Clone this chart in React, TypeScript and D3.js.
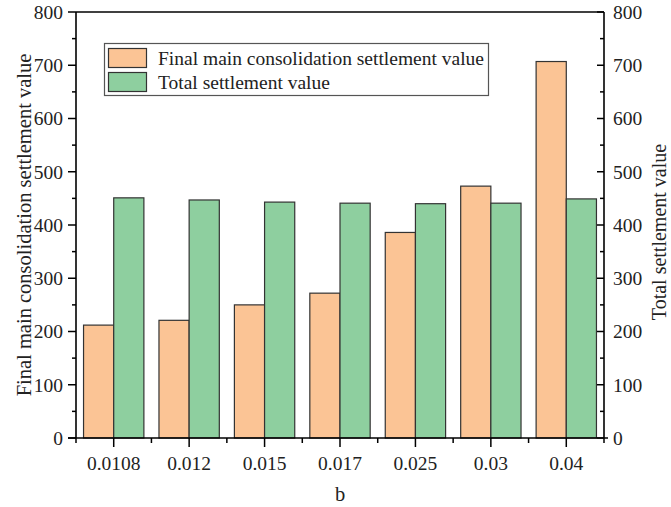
import { useEffect, useRef } from "react";
import * as d3 from "d3";

const categories = ["0.0108", "0.012", "0.015", "0.017", "0.025", "0.03", "0.04"];
const finalMain = [212, 221, 250, 272, 386, 473, 707];
const totalSettle = [451, 447, 443, 441, 440, 441, 449];
const yTicks = [0, 100, 200, 300, 400, 500, 600, 700, 800];
const seriesNames = ["Final main consolidation settlement value", "Total settlement value"];
const seriesColors = ["#FBC495", "#8ECF9F"];

const W = 671,
  H = 507;
const FONT = "Liberation Serif, serif";

const App = () => {
  const ref = useRef<SVGSVGElement>(null);

  useEffect(() => {
    const svg = d3.select(ref.current);
    svg.selectAll("*").remove();

    const left = 76,
      right = 604,
      top = 12,
      bottom = 438;

    const x = d3.scaleBand().domain(categories).range([left, right]).padding(0);
    const x1 = d3
      .scaleBand()
      .domain(["a", "b"])
      .range([x.bandwidth() * 0.1, x.bandwidth() * 0.9]);
    const y = d3.scaleLinear().domain([0, 800]).range([bottom, top]);

    const g = svg.append("g");

    const label = (sel: any, size = 19.5) =>
      sel.style("font-family", FONT).attr("font-size", size).attr("fill", "#222");

    // bars
    const groups = g
      .selectAll("g.cat")
      .data(categories)
      .enter()
      .append("g")
      .attr("class", "cat")
      .attr("transform", (d) => `translate(${x(d)},0)`);

    groups
      .append("rect")
      .attr("x", x1("a") as number)
      .attr("width", x1.bandwidth())
      .attr("y", (_, i) => y(finalMain[i]))
      .attr("height", (_, i) => bottom - y(finalMain[i]))
      .attr("fill", seriesColors[0])
      .attr("stroke", "#333")
      .attr("stroke-width", 1.2);

    groups
      .append("rect")
      .attr("x", x1("b") as number)
      .attr("width", x1.bandwidth())
      .attr("y", (_, i) => y(totalSettle[i]))
      .attr("height", (_, i) => bottom - y(totalSettle[i]))
      .attr("fill", seriesColors[1])
      .attr("stroke", "#333")
      .attr("stroke-width", 1.2);

    const minorY = d3.range(50, 800, 100);

    // left axis
    const la = g.append("g");
    la.append("line")
      .attr("x1", left).attr("x2", left)
      .attr("y1", top).attr("y2", bottom)
      .attr("stroke", "#000").attr("stroke-width", 1.6);
    yTicks.forEach((t) => {
      la.append("line")
        .attr("x1", left - 8).attr("x2", left)
        .attr("y1", y(t)).attr("y2", y(t))
        .attr("stroke", "#000").attr("stroke-width", 1.5);
      label(la.append("text"))
        .attr("x", left - 13)
        .attr("y", y(t))
        .attr("dy", "0.35em")
        .attr("text-anchor", "end")
        .text(t);
    });
    minorY.forEach((t) => {
      la.append("line")
        .attr("x1", left - 4).attr("x2", left)
        .attr("y1", y(t)).attr("y2", y(t))
        .attr("stroke", "#000").attr("stroke-width", 1.5);
    });

    // right axis
    const ra = g.append("g");
    ra.append("line")
      .attr("x1", right).attr("x2", right)
      .attr("y1", top).attr("y2", bottom)
      .attr("stroke", "#000").attr("stroke-width", 1.6);
    yTicks.forEach((t) => {
      ra.append("line")
        .attr("x1", right - 7).attr("x2", right)
        .attr("y1", y(t)).attr("y2", y(t))
        .attr("stroke", "#000").attr("stroke-width", 1.5);
      label(ra.append("text"))
        .attr("x", right + 9)
        .attr("y", y(t))
        .attr("dy", "0.35em")
        .attr("text-anchor", "start")
        .text(t);
    });
    minorY.forEach((t) => {
      ra.append("line")
        .attr("x1", right - 4).attr("x2", right)
        .attr("y1", y(t)).attr("y2", y(t))
        .attr("stroke", "#000").attr("stroke-width", 1.5);
    });

    // top border
    g.append("line")
      .attr("x1", left).attr("x2", right)
      .attr("y1", top).attr("y2", top)
      .attr("stroke", "#000").attr("stroke-width", 1.6);

    // bottom axis
    const ba = g.append("g");
    ba.append("line")
      .attr("x1", left - 8).attr("x2", right + 4)
      .attr("y1", bottom).attr("y2", bottom)
      .attr("stroke", "#000").attr("stroke-width", 1.6);
    categories.forEach((c) => {
      const cx = (x(c) as number) + x.bandwidth() / 2;
      ba.append("line")
        .attr("x1", cx).attr("x2", cx)
        .attr("y1", bottom).attr("y2", bottom + 9)
        .attr("stroke", "#000").attr("stroke-width", 1.5);
      label(ba.append("text"))
        .attr("x", cx)
        .attr("y", bottom + 32)
        .attr("text-anchor", "middle")
        .text(c);
    });
    categories.forEach((c) => {
      const bx = x(c) as number;
      ba.append("line")
        .attr("x1", bx).attr("x2", bx)
        .attr("y1", bottom).attr("y2", bottom + 5)
        .attr("stroke", "#000").attr("stroke-width", 1.5);
    });
    ba.append("line")
      .attr("x1", right).attr("x2", right)
      .attr("y1", bottom).attr("y2", bottom + 5)
      .attr("stroke", "#000").attr("stroke-width", 1.5);

    // axis titles
    label(g.append("text"), 20.5)
      .attr("x", (left + right) / 2)
      .attr("y", 501)
      .attr("text-anchor", "middle")
      .text("b");

    label(g.append("text"), 20.5)
      .attr("transform", `translate(31,${(top + bottom) / 2}) rotate(-90)`)
      .attr("text-anchor", "middle")
      .text("Final main consolidation settlement value");

    label(g.append("text"), 20)
      .attr("transform", `translate(666,232) rotate(-90)`)
      .attr("text-anchor", "middle")
      .text("Total settlement value");

    // legend
    const lg = g.append("g");
    lg.append("rect")
      .attr("x", 104.5).attr("y", 43.5)
      .attr("width", 384).attr("height", 52)
      .attr("fill", "#fff")
      .attr("stroke", "#555").attr("stroke-width", 1.2);
    seriesNames.forEach((name, i) => {
      lg.append("rect")
        .attr("x", 108.5).attr("y", 48.5 + i * 24)
        .attr("width", 38).attr("height", 19)
        .attr("fill", seriesColors[i])
        .attr("stroke", "#333").attr("stroke-width", 1.2);
      label(lg.append("text"))
        .attr("x", 158)
        .attr("y", 58 + i * 24)
        .attr("dy", "0.35em")
        .text(name);
    });
  }, []);

  return (
    <svg
      ref={ref}
      width={W}
      height={H}
      style={{ position: "absolute", left: 0, top: 0, background: "#fff" }}
    />
  );
};

export default App;
